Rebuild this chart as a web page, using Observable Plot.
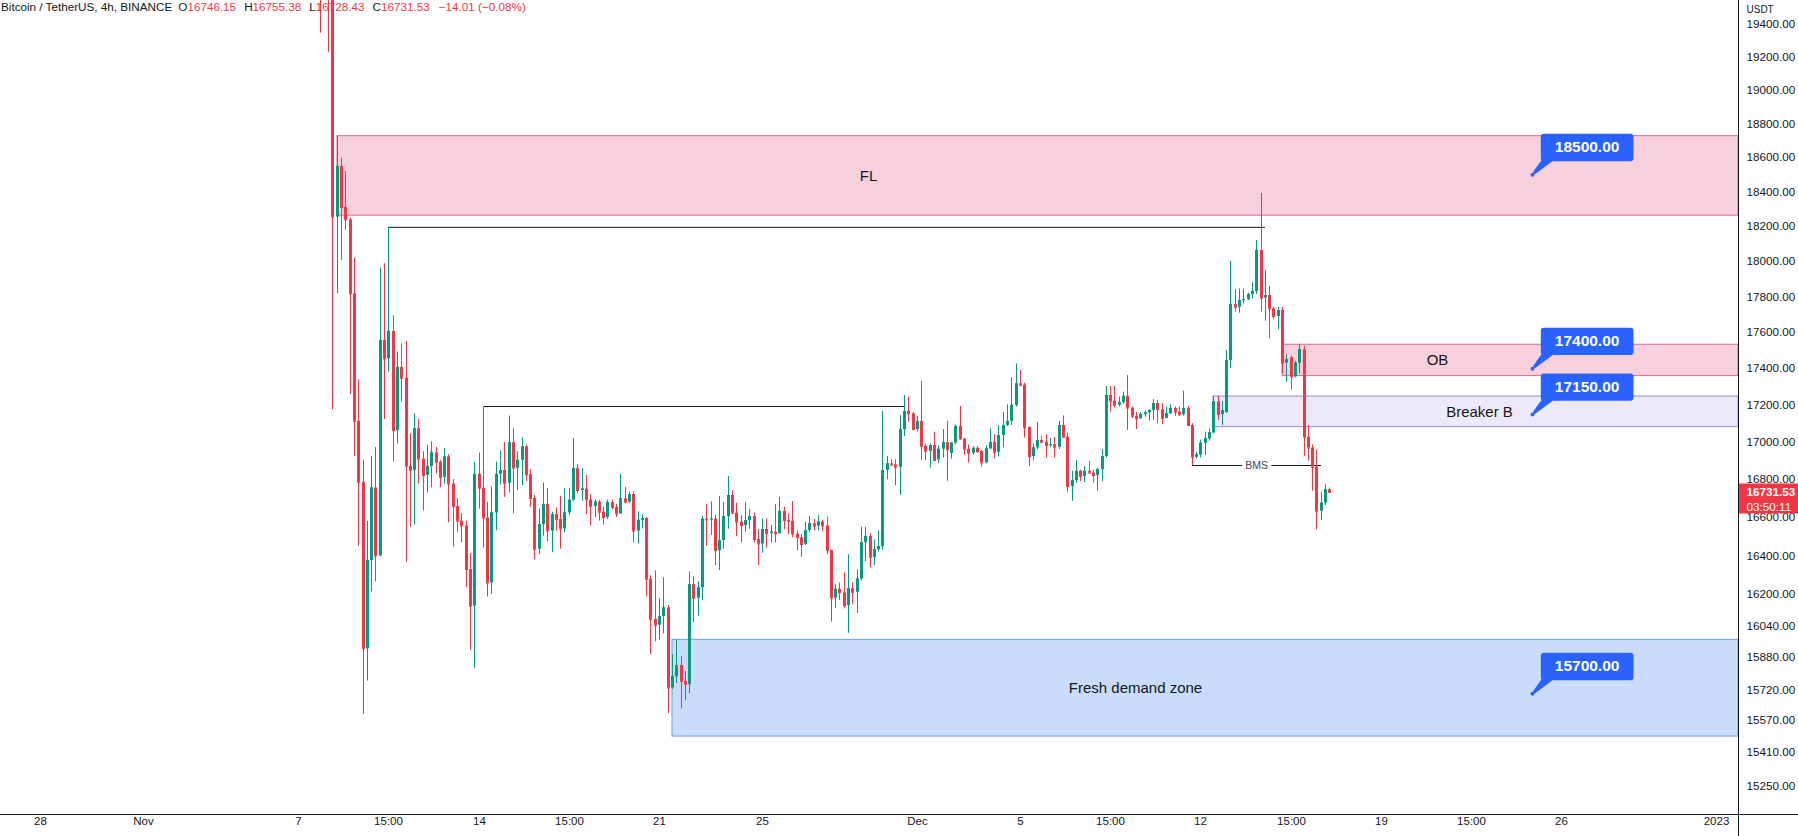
<!DOCTYPE html>
<html><head><meta charset="utf-8">
<script src="https://cdn.jsdelivr.net/npm/d3@7"></script>
<script src="https://cdn.jsdelivr.net/npm/@observablehq/plot@0.6"></script>
<style>
html,body{margin:0;padding:0;background:#fff;overflow:hidden}
#wrap{position:relative;width:1798px;height:836px;background:#fff}
#chart{position:absolute;left:0;top:0;z-index:1}
#hdr{position:absolute;left:1px;top:0px;z-index:0;font:11.7px "Liberation Sans",Arial,sans-serif;color:#131722;white-space:pre;pointer-events:none}
#hdr .k{margin-left:8px}
#hdr .k.first{margin-left:6px}
#hdr .v{color:#F23645}
#hdr .ch{margin-left:9px}
</style></head><body><div id="wrap"><div id="hdr"></div><div id="chart"></div></div>
<script>
// ---------- header ----------
const titleText = "Bitcoin / TetherUS, 4h, BINANCE";
const ohlcKeys = ["O", "H", "L", "C"];
const ohlcVals = ["16746.15", "16755.38", "16728.43", "16731.53"];
const changeText = "\u221214.01 (\u22120.08%)";

// ---------- candles (4h, first candle 2022-11-07 20:00 UTC) ----------
const firstCandle = "2022-11-07T20:00:00Z";
const opens = [
19950,19800,19700,19600,18254,18549,18310,18238,17817,17113,
16786,15925,16376,16756,16399,17555,17454,17606,17062,17407,
17347,16871,16849,17072,16909,16822,16870,16942,16893,16812,
16921,16777,16657,16581,16555,16329,16141,16828,16754,16597,
16260,16624,16828,16849,16780,16997,16861,16903,16975,16826,
16700,16434,16562,16668,16529,16615,16590,16540,16624,16691,
16858,16742,16750,16693,16657,16681,16628,16600,16678,16653,
16618,16699,16680,16721,16529,16585,16595,16279,16074,16044,
16088,16132,15729,15784,15841,15762,15745,16251,16181,16235,
16591,16588,16592,16427,16480,16605,16716,16623,16576,16558,
16584,16605,16485,16462,16537,16515,16523,16515,16632,16584,
16580,16513,16494,16459,16532,16567,16555,16576,16555,16427,
16182,16227,16209,16144,16230,16212,16280,16468,16501,16392,
16431,16448,16849,16884,16878,16866,17068,17166,17153,17068,
17112,16978,16951,16982,16905,16962,16998,16940,16995,17085,
17018,16962,16941,16967,16950,16889,16964,16998,16946,17036,
17090,17112,17199,17316,17310,17080,16923,16969,17009,17000,
16982,16986,16973,17090,17027,16763,16795,16844,16817,16844,
16835,16822,16853,16923,17253,17222,17199,17213,17248,17184,
17140,17126,17149,17158,17171,17209,17175,17128,17153,17182,
17162,17148,17182,17090,16919,16932,16994,17018,17050,17218,
17149,17160,17445,17756,17741,17779,17783,17813,17830,18063,
17792,17807,17732,17689,17723,17430,17460,17355,17430,17504,
17027,16969,16866,16633,16675,16746.15];
const highs = [
20100,19900,19850,19680,18727,18596,18520,18250,18018,17338,
16902,16579,16923,16972,17962,17987,18195,17694,17491,17537,
17550,17045,17153,17122,16949,16984,17002,16972,16900,16967,
16933,16800,16700,16620,16580,16412,16893,16942,17193,16680,
16762,16893,16953,16997,17141,17075,16949,17024,16985,16854,
16716,16648,16782,16754,16628,16650,16712,16754,16754,17018,
16880,16858,16822,16720,16692,16690,16655,16692,16692,16670,
16828,16758,16735,16735,16630,16615,16600,16297,16322,16181,
16286,16145,15896,15970,15885,15810,16317,16290,16265,16605,
16668,16682,16611,16710,16680,16817,16742,16675,16610,16677,
16642,16623,16537,16593,16593,16558,16668,16706,16654,16620,
16684,16530,16510,16576,16605,16590,16610,16585,16602,16430,
16250,16260,16312,16406,16260,16327,16549,16549,16515,16483,
16530,17166,16923,16905,16905,17144,17253,17244,17160,17139,
17330,16990,16991,17054,16980,17068,17113,16998,17092,17193,
17018,16985,16975,16976,16955,16980,17072,17040,17090,17160,
17202,17350,17426,17390,17320,17080,16990,17106,17030,17040,
17020,17025,17112,17142,17050,16845,16902,16850,16870,16897,
16850,16860,16961,17302,17302,17302,17244,17271,17363,17190,
17160,17160,17170,17175,17230,17226,17208,17189,17204,17190,
17189,17276,17193,17100,16946,17012,17054,17070,17248,17248,
17220,17500,18000,17840,17844,17844,17820,17879,18120,18390,
17949,17858,17740,17740,17740,17478,17470,17440,17532,17523,
17090,16985,16959,16733,16775,16755.38];
const lows = [
19347,19620,19230,17175,17817,18005,18178,17258,16923,16450,
15596,15763,16213,16265,16395,17122,17380,16893,16990,17217,
16367,16549,16560,16777,16634,16729,16757,16830,16757,16777,
16573,16444,16520,16468,16236,15916,15825,16643,16439,16188,
16200,16530,16770,16706,16729,16620,16742,16768,16790,16653,
16380,16407,16503,16474,16418,16529,16434,16520,16610,16685,
16725,16685,16615,16555,16600,16581,16560,16590,16640,16600,
16618,16672,16674,16468,16462,16540,16188,15897,15960,15968,
16000,15602,15722,15751,15624,15666,15700,16058,16090,16170,
16450,16506,16350,16324,16434,16539,16615,16501,16466,16523,
16539,16466,16350,16413,16440,16466,16466,16515,16535,16510,
16494,16427,16392,16454,16520,16530,16530,16525,16406,16060,
16130,16170,16127,16003,16150,16104,16270,16370,16336,16350,
16420,16430,16799,16870,16768,16717,17030,17108,17063,17055,
16902,16902,16861,16900,16884,16915,16791,16910,16985,17010,
16930,16889,16930,16940,16866,16884,16960,16911,16920,16970,
17085,17090,17190,17300,17022,16870,16900,16960,16990,16914,
16970,16915,16960,17020,16733,16685,16780,16790,16785,16830,
16781,16738,16790,16915,17162,17185,17190,17205,17063,17128,
17068,17125,17135,17115,17117,17099,17095,17126,17150,17140,
17138,17140,17085,16875,16911,16915,16928,17005,17045,17117,
17090,17155,17400,17714,17708,17760,17779,17788,17813,17714,
17663,17565,17670,17615,17371,17323,17284,17350,17371,16925,
16899,16738,16535,16584,16663,16728.43];
const closes = [
19800,19700,19600,18254,18549,18310,18238,17817,17113,16786,
15925,16376,16756,16399,17555,17454,17606,17062,17407,17347,
16871,16849,17072,16909,16822,16870,16942,16893,16812,16921,
16777,16657,16581,16555,16329,16141,16828,16754,16597,16260,
16624,16828,16849,16780,16997,16861,16903,16975,16826,16700,
16434,16562,16668,16529,16615,16590,16540,16624,16691,16858,
16742,16750,16693,16657,16681,16628,16600,16678,16653,16618,
16699,16680,16721,16529,16585,16595,16279,16074,16044,16088,
16132,15729,15784,15841,15762,15745,16251,16181,16235,16591,
16588,16592,16427,16480,16605,16716,16623,16576,16558,16584,
16605,16485,16462,16537,16515,16523,16515,16632,16584,16580,
16513,16494,16459,16532,16567,16555,16576,16555,16427,16182,
16227,16209,16144,16230,16212,16280,16468,16501,16392,16431,
16448,16849,16884,16878,16866,17068,17166,17153,17068,17112,
16978,16951,16982,16902,16962,16998,16959,16995,17085,17018,
16962,16941,16967,16950,16889,16964,16998,16946,17036,17090,
17112,17199,17316,17310,17080,16923,16969,17009,17000,16982,
16986,16973,17090,17027,16763,16795,16844,16817,16844,16835,
16822,16853,16923,17253,17222,17199,17213,17248,17184,17140,
17126,17149,17158,17171,17209,17175,17128,17153,17182,17162,
17148,17182,17090,16919,16932,16994,17018,17050,17218,17149,
17171,17445,17756,17741,17779,17783,17813,17830,18063,17792,
17807,17732,17689,17723,17430,17449,17355,17430,17504,17027,
16969,16866,16633,16675,16746,16731.53];

// ---------- zones ----------
const zoneNames = ["FL", "OB", "Breaker B", "Fresh demand zone"];
const zoneStart = ["2022-11-08T12:00:00Z", "2022-12-15T04:00:00Z", "2022-12-12T12:00:00Z", "2022-11-21T12:00:00Z"];
const zoneLow = [18262, 17359, 17081, 15489];
const zoneHigh = [18727, 17532, 17247, 15970];
const zoneLabelTime = ["2022-11-29T03:00:00Z", "2022-12-21T04:00:00Z", "2022-12-22T19:30:00Z", "2022-12-09T11:20:00Z"];

// ---------- horizontal levels ----------
const levelStart = ["2022-11-10T12:00:00Z", "2022-11-14T04:00:00Z", "2022-12-11T16:00:00Z"];
const levelEnd = ["2022-12-14T12:00:00Z", "2022-11-30T12:00:00Z", "2022-12-16T16:00:00Z"];
const levelPrice = [18195, 17193, 16875];
const bmsLabel = "BMS";
const bmsTime = "2022-12-14T04:00:00Z";

// ---------- price callouts ----------
const calloutTime = "2022-12-24T21:00:00Z";
const calloutPrices = [18500, 17400, 17150, 15700];

// ---------- last price ----------
const lastPrice = 16731.53;
const countdown = "03:50:11";
const currency = "USDT";

// ---------- axes ----------
const xTickTimes = ["2022-10-28T00:00:00Z","2022-11-01T00:00:00Z","2022-11-07T00:00:00Z","2022-11-10T12:00:00Z","2022-11-14T00:00:00Z","2022-11-17T12:00:00Z","2022-11-21T00:00:00Z","2022-11-25T00:00:00Z","2022-12-01T00:00:00Z","2022-12-05T00:00:00Z","2022-12-08T12:00:00Z","2022-12-12T00:00:00Z","2022-12-15T12:00:00Z","2022-12-19T00:00:00Z","2022-12-22T12:00:00Z","2022-12-26T00:00:00Z","2023-01-01T00:00:00Z"];
const xTickLabels = ["28","Nov","7","15:00","14","15:00","21","25","Dec","5","15:00","12","15:00","19","15:00","26","2023"];
const yTicks = [19400,19200,19000,18800,18600,18400,18200,18000,17800,17600,17400,17200,17000,16800,16600,16400,16200,16040,15880,15720,15570,15410,15250];

const xDomain = [new Date("2022-10-26T10:29:00Z"), new Date("2023-01-01T20:28:00Z")];
const yDomain = [15112, 19548];

// ---------- build ----------
const UP = "#089981", DOWN = "#F23645", INK = "#131722";
const H4 = 4 * 3600 * 1000;
const t0 = Date.parse(firstCandle);
const candles = opens.map((o, i) => ({t: new Date(t0 + i * H4), o, h: highs[i], l: lows[i], c: closes[i]}));
const col = d => (d.c >= d.o ? UP : DOWN);

const zoneStyle = {
  "FL": {fill: "#f8cfdc", stroke: "#dc6a90"},
  "OB": {fill: "#f8cfdc", stroke: "#dc6a90"},
  "Breaker B": {fill: "#eee9f8", stroke: "#9b86d6"},
  "Fresh demand zone": {fill: "#cadcfa", stroke: "#6c9ef0"}
};
const zones = zoneNames.map((name, i) => ({name, start: new Date(zoneStart[i]), low: zoneLow[i], high: zoneHigh[i], labelTime: new Date(zoneLabelTime[i])}));
const levels = levelPrice.map((p, i) => ({start: new Date(levelStart[i]), end: new Date(levelEnd[i]), price: p}));
const callouts = calloutPrices.map(p => ({t: new Date(calloutTime), p}));
const xTicks = xTickTimes.map((s, i) => ({t: new Date(s), label: xTickLabels[i]}));

const bodyMin = {draw(ctx) { ctx.rect(-1.5, -0.5, 3, 1); }};
const calloutSym = {draw(ctx) {
  ctx.moveTo(2, 0); ctx.arc(0, 0, 2, 0, 2 * Math.PI);
  ctx.moveTo(0.4, -2.4); ctx.lineTo(8.8, -14.2); ctx.lineTo(21, -14.2); ctx.lineTo(2.4, -0.4); ctx.closePath();
  const x0 = 8.3, x1 = 101, y0 = -41, y1 = -13.6, r = 3;
  ctx.moveTo(x0 + r, y0); ctx.lineTo(x1 - r, y0); ctx.arcTo(x1, y0, x1, y0 + r, r);
  ctx.lineTo(x1, y1 - r); ctx.arcTo(x1, y1, x1 - r, y1, r);
  ctx.lineTo(x0 + r, y1); ctx.arcTo(x0, y1, x0, y1 - r, r);
  ctx.lineTo(x0, y0 + r); ctx.arcTo(x0, y0, x0 + r, y0, r); ctx.closePath();
}};
const priceTag = {draw(ctx) { ctx.rect(0.5, -9, 60, 30); }};

const marks = [];
zones.forEach(z => {
  marks.push(Plot.rect([z], {x1: "start", x2: () => xDomain[1], y1: "low", y2: "high", fill: zoneStyle[z.name].fill, stroke: zoneStyle[z.name].stroke, strokeWidth: 1, clip: true}));
});
marks.push(
  Plot.ruleY(levels, {x1: "start", x2: "end", y: "price", stroke: INK, strokeWidth: 1}),
  Plot.ruleX(candles, {x: "t", y1: "l", y2: "h", stroke: col, strokeWidth: 1, clip: true}),
  Plot.ruleX(candles, {x: "t", y1: "o", y2: "c", stroke: col, strokeWidth: 3, clip: true}),
  Plot.dot(candles, {x: "t", y: "c", symbol: bodyMin, r: 2, fill: col, stroke: "none", clip: true}),
  Plot.text(zones, {x: "labelTime", y: d => Math.sqrt(d.low * d.high), text: "name", fontSize: 15, fill: INK}),
  Plot.text([{t: new Date(bmsTime), p: levelPrice[2], s: bmsLabel}], {x: "t", y: "p", text: "s", fontSize: 10.5, fill: "#434651", stroke: "white", strokeWidth: 8}),
  Plot.dot(callouts, {x: "t", y: "p", symbol: calloutSym, r: 4, fill: "#2962FF", stroke: "none"}),
  Plot.text(callouts, {x: "t", y: "p", text: d => d.p.toFixed(2), dx: 54.6, dy: -27.3, fill: "white", fontWeight: "bold", fontSize: 15.5}),
  Plot.ruleX([xDomain[1]], {stroke: INK, strokeWidth: 1, insetBottom: -22}),
  Plot.ruleY([yDomain[0]], {stroke: INK, strokeWidth: 1, insetRight: -60}),
  Plot.text(yTicks, {y: d => d, text: d => d.toFixed(2), frameAnchor: "right", dx: 8, textAnchor: "start", fontSize: 11.7, fill: INK}),
  Plot.text([currency], {text: d => d, frameAnchor: "top-right", dx: 8, dy: 5, textAnchor: "start", fontSize: 10, fill: INK}),
  Plot.text(xTicks, {x: "t", text: "label", frameAnchor: "bottom", dy: 10, fontSize: 11.5, fill: INK}),
  Plot.dot([lastPrice], {y: d => d, frameAnchor: "right", symbol: priceTag, r: 4, fill: DOWN, stroke: "none"}),
  Plot.text([lastPrice], {y: d => d, frameAnchor: "right", text: d => d.toFixed(2), dx: 8, textAnchor: "start", fontSize: 11.7, fontWeight: "bold", fill: "white"}),
  Plot.text([lastPrice], {y: d => d, frameAnchor: "right", text: () => countdown, dx: 8, dy: 14.5, textAnchor: "start", fontSize: 11.7, fill: "white"})
);

const chart = Plot.plot({
  width: 1798, height: 836,
  marginTop: 0, marginRight: 60, marginBottom: 22, marginLeft: 0,
  style: {fontFamily: '"Liberation Sans", Arial, sans-serif', background: "transparent", color: INK, overflow: "visible"},
  x: {type: "utc", domain: xDomain, round: true, axis: null},
  y: {type: "log", domain: yDomain, axis: null},
  marks
});
document.getElementById("chart").appendChild(chart);

const hdr = document.getElementById("hdr");
hdr.innerHTML = `<span>${titleText}</span>` +
  ohlcKeys.map((k, i) => `<span class="k${i === 0 ? " first" : ""}">${k}</span><span class="v">${ohlcVals[i]}</span>`).join("") +
  `<span class="v ch">${changeText}</span>`;
</script></body></html>
